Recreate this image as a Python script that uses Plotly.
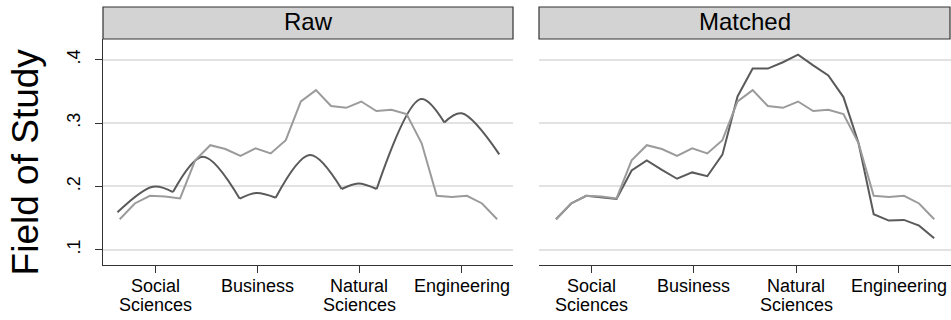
import plotly.graph_objects as go

# ---- data -------------------------------------------------------------
bins = list(range(26))

# reference group share (same series in both panels)
treated_share = [0.148, 0.173, 0.185, 0.184, 0.181, 0.241, 0.265, 0.259, 0.248,
                 0.260, 0.252, 0.273, 0.334, 0.352, 0.327, 0.324, 0.334, 0.319,
                 0.321, 0.314, 0.268, 0.185, 0.183, 0.185, 0.173, 0.148]

# comparison group after matching
matched_share = [0.148, 0.173, 0.185, 0.183, 0.180, 0.225, 0.241, 0.226, 0.212,
                 0.222, 0.216, 0.250, 0.342, 0.386, 0.386, 0.396, 0.408, 0.391,
                 0.375, 0.341, 0.268, 0.156, 0.146, 0.147, 0.138, 0.118]

# comparison group before matching: smoothed curve, knots alternate
# between segment ends and segment crests
raw_knot_pos = [-0.15, 2.2, 3.53, 5.52, 7.95, 9.05, 10.33, 12.6, 14.7, 15.8,
                17.02, 19.95, 21.5, 22.65, 25.14]
raw_knot_val = [0.159, 0.1995, 0.191, 0.2468, 0.1805, 0.1895, 0.1821, 0.2495,
                0.1958, 0.2047, 0.1958, 0.3379, 0.301, 0.3153, 0.2505]

category_pos = [2.36, 9.12, 15.88, 22.64]
category_labels = ["Social<br>Sciences", "Business", "Natural<br>Sciences", "Engineering"]

y_ticks = [0.1, 0.2, 0.3, 0.4]
y_tick_labels = [".1", ".2", ".3", ".4"]

panel_titles = ["Raw", "Matched"]
y_title = "Field of Study"

# ---- styling ----------------------------------------------------------
W, H = 951, 320
FONT = "Liberation Sans, Arial, Helvetica, sans-serif"
DARK = "#5a5a5a"
LIGHT = "#9b9b9b"
AXIS = "#333333"
GRID = "#e2e2e2"
STRIP = "#d3d3d3"


def fx(px):
    return px / W


def fy(px):
    return 1 - px / H


panels = [
    dict(x0=103, x1=513, xr=[-1.106, 26.05]),
    dict(x0=539, x1=951, xr=[-1.124, 26.11]),
]
plot_top, plot_bot = 39, 265
strip_top = 7
y_range = [0.0758, 0.4327]

fig = go.Figure()

# Raw panel: comparison curve drawn segment by segment
n_seg = (len(raw_knot_pos) - 1) // 2
for k in range(n_seg):
    fig.add_trace(go.Scatter(
        x=raw_knot_pos[2 * k:2 * k + 3], y=raw_knot_val[2 * k:2 * k + 3],
        mode="lines", line=dict(color=DARK, width=2, shape="spline", smoothing=1),
        xaxis="x", yaxis="y", showlegend=False, hoverinfo="skip"))
fig.add_trace(go.Scatter(
    x=bins, y=treated_share, mode="lines", line=dict(color=LIGHT, width=2),
    xaxis="x", yaxis="y", showlegend=False))

# Matched panel
fig.add_trace(go.Scatter(
    x=bins, y=matched_share, mode="lines", line=dict(color=DARK, width=2),
    xaxis="x2", yaxis="y2", showlegend=False))
fig.add_trace(go.Scatter(
    x=bins, y=treated_share, mode="lines", line=dict(color=LIGHT, width=2),
    xaxis="x2", yaxis="y2", showlegend=False))

ydom = [fy(plot_bot), fy(plot_top)]
common_x = dict(
    tickmode="array", tickvals=category_pos, ticktext=[""] * len(category_pos),
    showgrid=False, zeroline=False, showline=True, linecolor=AXIS, linewidth=1.3,
    ticks="outside", ticklen=7, tickwidth=1.3, tickcolor=AXIS, fixedrange=True,
)
common_y = dict(
    range=y_range, domain=ydom, tickmode="array", tickvals=y_ticks,
    showgrid=True, gridcolor=GRID, gridwidth=1.6, zeroline=False, fixedrange=True,
)

fig.update_layout(
    width=W, height=H, margin=dict(l=0, r=0, t=0, b=0),
    paper_bgcolor="white", plot_bgcolor="white",
    font=dict(family=FONT, color="#000000"),
    xaxis=dict(domain=[fx(panels[0]["x0"]), fx(panels[0]["x1"])],
               range=panels[0]["xr"], anchor="y", **common_x),
    xaxis2=dict(domain=[fx(panels[1]["x0"]), fx(panels[1]["x1"])],
                range=panels[1]["xr"], anchor="y2", **common_x),
    yaxis=dict(anchor="x", ticktext=y_tick_labels, showticklabels=True,
               tickangle=-90, tickfont=dict(size=18, family=FONT),
               ticklabelstandoff=8,
               showline=True, linecolor=AXIS, linewidth=1.3,
               ticks="outside", ticklen=7, tickwidth=1.3, tickcolor=AXIS,
               **common_y),
    yaxis2=dict(anchor="x2", showticklabels=False, showline=False, ticks="",
                **common_y),
)

shapes = []
annotations = []
for p, title in zip(panels, panel_titles):
    right = min(p["x1"], 950)
    shapes.append(dict(
        type="rect", xref="paper", yref="paper",
        x0=fx(p["x0"]), x1=fx(right), y0=fy(plot_top), y1=fy(strip_top),
        fillcolor=STRIP, line=dict(color=AXIS, width=1.2), layer="above"))
    annotations.append(dict(
        text=title, xref="paper", yref="paper",
        x=fx((p["x0"] + right) / 2), y=fy(21), xanchor="center", yanchor="middle",
        showarrow=False, font=dict(size=24, family=FONT, color="#000000")))

# category labels under the ticks, one annotation per text line
for xa in ["x", "x2"]:
    for pos, lab in zip(category_pos, category_labels):
        for j, line in enumerate(lab.split("<br>")):
            annotations.append(dict(
                text=line, xref=xa, yref="paper", x=pos, y=fy(286.4 + 19 * j),
                xanchor="center", yanchor="middle", showarrow=False,
                font=dict(size=18, family=FONT, color="#000000")))

annotations.append(dict(
    text=y_title, xref="paper", yref="paper", x=fx(25.7), y=fy(161.7),
    xanchor="center", yanchor="middle", textangle=-90, showarrow=False,
    font=dict(size=37, family=FONT, color="#000000")))

fig.update_layout(shapes=shapes, annotations=annotations)

fig.write_html("out.html")
